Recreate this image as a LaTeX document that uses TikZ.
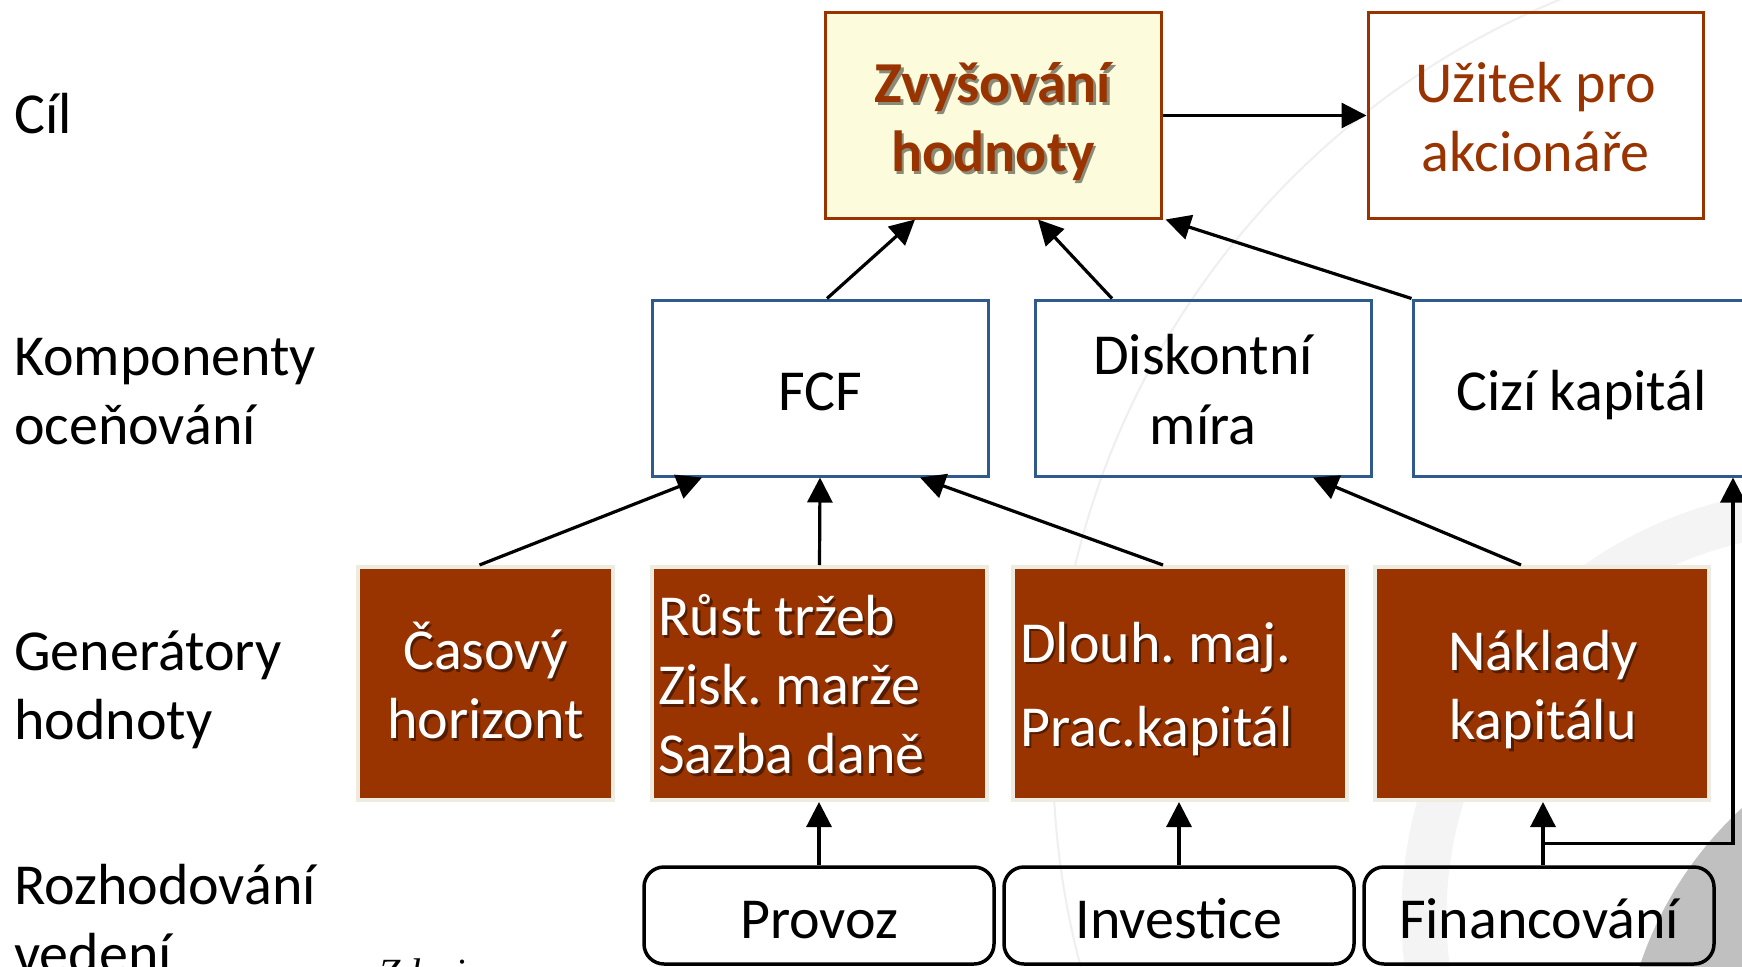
\documentclass[tikz,border=0pt]{standalone}
\usepackage{fontspec}
\setmainfont{Carlito}
\newfontfamily\notefont{Liberation Serif}
\usetikzlibrary{arrows.meta}
\definecolor{rust}{HTML}{993300}
\definecolor{paleyellow}{HTML}{FCFCDC}
\definecolor{frameblue}{HTML}{2E5A8E}
\definecolor{beige}{HTML}{EEECE1}
\definecolor{disc}{HTML}{C0C0C0}
\definecolor{ringgrey}{HTML}{F4F4F4}
\definecolor{arcgrey}{HTML}{EFEFEF}
% invisible rules that fix the top and bottom of every text block
\newcommand{\topprop}{\rule{0pt}{57.3pt}}
\newcommand{\botprop}{\rule[-11.7pt]{0pt}{0pt}}

\begin{document}
\frenchspacing
\begin{tikzpicture}[x=1pt,y=-1pt,
  big/.style={font=\fontsize{58}{69}\selectfont},
  lbl/.style={big, inner sep=0pt, align=left, anchor=west,
    execute at begin node=\topprop, execute at end node=\botprop},
  words/.style={big, inner sep=0pt, align=center,
    execute at begin node=\topprop, execute at end node=\botprop},
  boldwords/.style={words, font=\fontsize{58}{69}\selectfont\bfseries},
  goalbox/.style={draw=rust, line width=3pt, minimum width=336pt,
    minimum height=205pt, inner sep=0pt},
  compbox/.style={words, draw=frameblue, line width=3pt,
    minimum width=336pt, minimum height=176pt},
  genbox/.style={draw=beige, line width=4pt, fill=rust,
    minimum height=233pt, inner sep=0pt},
  decbox/.style={words, draw=black, line width=3.5pt, rounded corners=20pt,
    minimum width=350pt, minimum height=97pt},
  shade/.style={text=black, text opacity=0.45},
  arr/.style={line width=3.2pt, -{Triangle[length=25pt,width=25pt]}},
]
\useasboundingbox (0,0) rectangle (1742,966);
\clip (0,0) rectangle (1742,966);

% background ornaments
\fill[white] (0,0) rectangle (1742,966);
\draw[arcgrey, line width=2pt] (1869,755) circle[radius=816pt];
\draw[ringgrey, line width=45pt] (1830,916) circle[radius=406pt];
\fill[disc] (1994,1083) circle[radius=373pt];

% row labels
\node[lbl] (l1) at (14,111) {Cíl};
\node[lbl] (l2) at (14,397) {Komponenty\\oceňování};
\node[lbl] (l3) at (14,691) {Generátory\\hodnoty};
\node[lbl] (l4) at (14,925) {Rozhodování\\vedení};
\node[inner sep=0pt, anchor=base west,
  font=\notefont\itshape\fontsize{40}{48}\selectfont] (src) at (378,986) {Zdroj:};

% goal
\node[goalbox, fill=paleyellow] (zv) at (993,115.5) {};
\node[boldwords, shade] (zvs) at (995.5,125.5) {Zvyšování\\hodnoty};
\node[boldwords, text=rust] (zvt) at (993,123) {Zvyšování\\hodnoty};
\node[goalbox, minimum width=335pt] (uz) at (1535.5,115.5) {};
\node[words, text=rust] (uzt) at (1535.5,123) {Užitek pro\\akcionáře};

% valuation components
\node[compbox] (fcf) at (820,388) {FCF};
\node[compbox] (disk) at (1203,388) {};
\node[words, font=\fontsize{58}{70}\selectfont] (diskt) at (1203,395) {Diskontní\\míra};
\node[compbox, minimum width=337pt] (cizi) at (1581.5,388) {Cizí kapitál};

% value drivers
\node[genbox, minimum width=255pt] (cas) at (485.5,683.5) {};
\node[genbox, minimum width=335pt] (rust) at (819.5,683.5) {};
\node[genbox, minimum width=334pt] (dl) at (1180,683.5) {};
\node[genbox, minimum width=334pt] (nak) at (1542,683.5) {};

\node[words, shade] (cass) at (488,689) {Časový\\horizont};
\node[words, text=white] (cast) at (485.5,686.5) {Časový\\horizont};
\node[words, shade, align=left, anchor=west] (rusts) at (660.5,692.5) {Růst tržeb\\Zisk. marže\\Sazba daně};
\node[words, text=white, align=left, anchor=west] (rustt) at (658,690) {Růst tržeb\\Zisk. marže\\Sazba daně};
\node[words, shade, align=left, anchor=west, font=\fontsize{58}{84}\selectfont] (dls) at (1022.5,692.5) {Dlouh. maj.\\Prac.kapitál};
\node[words, text=white, align=left, anchor=west, font=\fontsize{58}{84}\selectfont] (dlt) at (1020,690) {Dlouh. maj.\\Prac.kapitál};
\node[words, shade] (naks) at (1545.5,693.5) {Náklady\\kapitálu};
\node[words, text=white] (nakt) at (1543,691) {Náklady\\kapitálu};

% management decisions
\node[decbox] (prov) at (819,915.5) {Provoz};
\node[decbox] (inv) at (1179,915.5) {Investice};
\node[decbox] (fin) at (1539,915.5) {Financování};

% connectors
\draw[arr] (zv.east) -- (uz.west);
\draw[arr] ([xshift=7pt]fcf.north) -- ([xshift=-78pt]zv.south);
\draw[arr] ([xshift=-91pt]disk.north) -- ([xshift=45pt]zv.south);
\draw[arr] (cizi.north west) -- ([xshift=3pt]zv.south east);

\draw[arr] ([xshift=-6pt]cas.north) -- ([xshift=-118pt]fcf.south);
\draw[arr] (rust.north) -- (fcf.south);
\draw[arr] ([xshift=-17pt]dl.north) -- ([xshift=100pt]fcf.south);
\draw[arr] ([xshift=-21pt]nak.north) -- ([xshift=110pt]disk.south);

\draw[arr] (prov.north) -- (prov.north |- rust.south);
\draw[arr] (inv.north) -- (inv.north |- dl.south);
\draw[arr] ([xshift=4pt]fin.north) -- ([xshift=4pt]fin.north |- nak.south);
\draw[arr] ([xshift=4pt,yshift=22pt]fin.north) -| ([xshift=151.5pt]cizi.south);
\end{tikzpicture}
\end{document}
